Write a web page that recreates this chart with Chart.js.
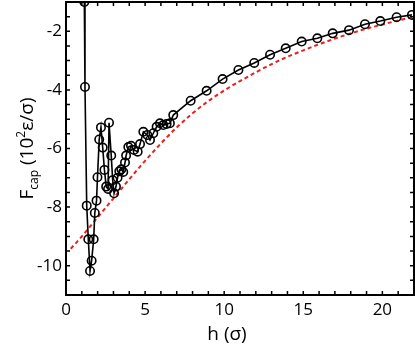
<!DOCTYPE html>
<html><head><meta charset="utf-8">
<script src="https://cdn.jsdelivr.net/npm/chart.js@4.4.1/dist/chart.umd.min.js"></script>
<style>html,body{margin:0;padding:0;background:#fff;overflow:hidden}#wrap{width:415px;height:349px}</style>
</head><body><div id="wrap"><canvas id="c" width="415" height="349"></canvas></div>
<script>
// simulation (black, open circles)
const hSim = [1.16,1.2,1.31,1.41,1.52,1.62,1.75,1.82,1.93,1.99,2.1,2.21,2.32,2.43,2.54,2.66,2.72,2.86,2.95,3.04,3.16,3.26,3.37,3.5,3.62,3.73,3.8,3.94,4.11,4.3,4.53,4.68,4.89,5.14,5.31,5.52,5.73,5.94,6.15,6.36,6.57,6.78,7.88,8.89,9.9,10.9,11.9,12.9,13.89,14.9,15.89,16.86,17.89,18.9,19.87,20.9,21.87];
const fSim = [-1.0,-3.9,-7.95,-9.1,-10.18,-9.83,-9.1,-8.2,-7.78,-6.98,-5.69,-5.28,-5.97,-6.73,-7.3,-7.38,-5.12,-6.24,-7.08,-7.53,-7.3,-7.0,-6.78,-6.71,-6.8,-6.48,-6.24,-5.95,-5.91,-6.05,-6.11,-5.85,-5.43,-5.54,-5.71,-5.48,-5.26,-5.14,-5.2,-5.16,-5.14,-4.86,-4.37,-4.03,-3.63,-3.32,-3.08,-2.8,-2.58,-2.35,-2.24,-2.07,-1.96,-1.76,-1.65,-1.52,-1.44];
// theory curve (red dashed)
const hFit = [0.3,1,2,3,4,5,6,7,8,9,10,11,12,13,14,15,16,17,18,19,20,21,22];
const fFit = [-9.42,-9.0,-8.35,-7.7,-7.05,-6.42,-5.83,-5.28,-4.8,-4.38,-4.02,-3.7,-3.4,-3.12,-2.87,-2.65,-2.44,-2.25,-2.07,-1.91,-1.77,-1.63,-1.5];
const xTicks = [0,5,10,15,20];
const yTicks = [-10,-8,-6,-4,-2];
const xMinor = [0,1,2,3,4,5,6,7,8,9,10,11,12,13,14,15,16,17,18,19,20,21,22];
const yMinor = [-11,-10.5,-10,-9.5,-9,-8.5,-8,-7.5,-7,-6.5,-6,-5.5,-5,-4.5,-4,-3.5,-3,-2.5,-2,-1.5,-1];

const FONT = "'Open Sans', sans-serif";

const framePlugin = {
  id: 'frame',
  afterDatasetsDraw(chart) {
    const {ctx, chartArea: a, scales: {x, y}} = chart;
    ctx.save();
    ctx.strokeStyle = '#000';
    ctx.lineWidth = 1.5;
    ctx.beginPath();
    const L = 4;
    xMinor.forEach(v => {
      const px = x.getPixelForValue(v);
      ctx.moveTo(px, a.bottom); ctx.lineTo(px, a.bottom - L);
      ctx.moveTo(px, a.top); ctx.lineTo(px, a.top + L);
    });
    yMinor.forEach(v => {
      const py = y.getPixelForValue(v);
      ctx.moveTo(a.left, py); ctx.lineTo(a.left + L, py);
      ctx.moveTo(a.right, py); ctx.lineTo(a.right - L, py);
    });
    ctx.stroke();
    ctx.lineWidth = 2;
    ctx.strokeRect(a.left, a.top, a.right - a.left, a.bottom - a.top);
    ctx.restore();
  },
  afterDraw(chart) {
    const {ctx, chartArea: a} = chart;
    ctx.save();
    ctx.fillStyle = '#000';
    ctx.textBaseline = 'alphabetic';
    // x title
    ctx.font = "19px " + FONT;
    ctx.textAlign = 'center';
    ctx.fillText('h (σ)', 227, 340);
    // y title with sub/superscript
    const parts = [
      {t:'F', s:19, dy:0},
      {t:'cap', s:12, dy:5},
      {t:' (10', s:19, dy:0},
      {t:'2', s:12, dy:-8},
      {t:'ε/σ)', s:19, dy:0}
    ];
    let total = 0;
    parts.forEach(p => { ctx.font = p.s + 'px ' + FONT; p.w = ctx.measureText(p.t).width; total += p.w; });
    ctx.translate(33, (a.top + a.bottom) / 2);
    ctx.rotate(-Math.PI / 2);
    ctx.textAlign = 'left';
    let cx = -total / 2;
    parts.forEach(p => {
      ctx.font = p.s + 'px ' + FONT;
      ctx.fillText(p.t, cx, p.dy);
      cx += p.w;
    });
    ctx.restore();
  }
};

function noPad(s) { s.paddingTop = 0; s.paddingBottom = 0; s.paddingLeft = 0; s.paddingRight = 0; }

new Chart(document.getElementById('c'), {
  type: 'scatter',
  data: {
    datasets: [
      {
        data: hSim.map((h, i) => ({x: h, y: fSim[i]})),
        showLine: true,
        borderColor: '#000',
        borderWidth: 1.6,
        pointRadius: 4.2,
        pointBorderWidth: 1.6,
        pointBorderColor: '#000',
        pointBackgroundColor: 'rgba(0,0,0,0)',
        tension: 0
      },
      {
        data: hFit.map((h, i) => ({x: h, y: fFit[i]})),
        showLine: true,
        borderColor: '#e8211d',
        borderWidth: 2,
        borderDash: [4, 3],
        pointRadius: 0,
        cubicInterpolationMode: 'monotone'
      }
    ]
  },
  options: {
    responsive: false,
    animation: false,
    devicePixelRatio: 1,
    layout: {autoPadding: false, padding: {top: 2, right: 1, left: 0, bottom: 0}},
    plugins: {legend: {display: false}, tooltip: {enabled: false}},
    scales: {
      x: {
        type: 'linear', min: 0, max: 22,
        afterBuildTicks: s => { s.ticks = xTicks.map(v => ({value: v})); },
        afterFit: s => { s.height = 54; noPad(s); },
        grid: {display: false, drawTicks: false},
        border: {display: false},
        ticks: {color: '#000', font: {family: FONT, size: 17}, padding: 5, maxRotation: 0, autoSkip: false}
      },
      y: {
        type: 'linear', min: -11, max: -1,
        afterBuildTicks: s => { s.ticks = yTicks.map(v => ({value: v})); },
        afterFit: s => { s.width = 66; noPad(s); },
        grid: {display: false, drawTicks: false},
        border: {display: false},
        ticks: {color: '#000', font: {family: FONT, size: 17}, padding: 4, autoSkip: false}
      }
    }
  },
  plugins: [framePlugin]
});
</script>
</body></html>
